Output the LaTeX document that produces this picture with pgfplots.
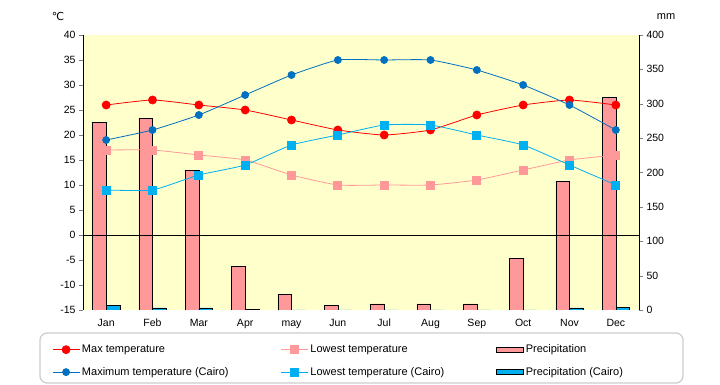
\documentclass[border=0pt]{standalone}
\usepackage{fontspec}
\setmainfont{Liberation Sans}
\newfontfamily\dejavu{DejaVu Sans}
\usepackage{pgfplots}
\pgfplotsset{compat=1.18}
\definecolor{bgy}{HTML}{FFFFCC}
\definecolor{pinkc}{HTML}{FF9999}
\definecolor{cyanc}{HTML}{00B0F0}
\definecolor{bluec}{HTML}{0070C0}
\begin{document}
\begin{tikzpicture}[x=1pt,y=1pt]
\path[use as bounding box] (0,0) rectangle (720,385);
\pgfplotsset{
  common/.style={
    at={(83pt,75pt)}, anchor=south west, scale only axis,
    width=556pt, height=275pt, xmin=-0.5, xmax=11.5,
    tick align=outside, major tick length=4pt,
    tick label style={font=\fontsize{10.5}{12}\selectfont},
    /pgf/number format/assume math mode=true,
  }
}
\begin{axis}[common,
  ymin=0, ymax=400, ytick={0,50,...,400},
  axis y line*=right, axis x line*=bottom,
  x axis line style={draw=none}, xtick style={draw=none},
  xtick={0,...,11},
  xticklabels={Jan,Feb,Mar,Apr,may,Jun,Jul,Aug,Sep,Oct,Nov,Dec},
  xticklabel style={text height=7.5pt, text depth=2pt, yshift=-1pt},
  axis background/.style={fill=bgy},
  ybar, bar width=13.7pt,
]
\addplot[fill=pinkc, draw=black, bar shift=-6.85pt] coordinates {
(0,273) (1,279) (2,203) (3,63) (4,23) (5,7) (6,9) (7,9) (8,9) (9,75) (10,187) (11,309)};
\addplot[fill=cyanc, draw=black, bar shift=6.85pt] coordinates {
(0,7) (1,3) (2,3) (3,1) (4,0) (5,0) (6,0) (7,0) (8,0) (9,0) (10,3) (11,4)};
\end{axis}
\begin{axis}[common,
  ymin=-15, ymax=40, ytick={-15,-10,...,40},
  axis y line*=left, axis x line=none,
  legend columns=3, legend cell align=left,
  legend style={draw=none, fill=none, inner sep=0pt, row sep=9pt,
    at={(axis description cs:-0.0558,-0.119)}, anchor=north west,
    font=\fontsize{11}{12}\selectfont,
    /tikz/every even column/.append style={column sep=50pt}},
  legend image code/.code={\draw[mark repeat=2,mark phase=2,#1] plot coordinates {(0pt,0pt) (13.5pt,0pt) (27pt,0pt)};},
]
\addplot[black, no marks, line width=0.6pt, forget plot] coordinates {(-0.5,0) (11.5,0)};
\addplot[red, line width=0.8pt, smooth, tension=0.3, mark=*, mark size=4pt] coordinates {
(0,26) (1,27) (2,26) (3,25) (4,23) (5,21) (6,20) (7,21) (8,24) (9,26) (10,27) (11,26)};
\addplot[pinkc, line width=0.8pt, smooth, tension=0.3, mark=square*, mark size=4pt] coordinates {
(0,17) (1,17) (2,16) (3,15) (4,12) (5,10) (6,10) (7,10) (8,11) (9,13) (10,15) (11,16)};
\addlegendimage{legend image code/.code={\draw[fill=pinkc,draw=black] (0pt,-2.5pt) rectangle (27pt,2.5pt);}}
\addplot[bluec, line width=0.8pt, smooth, tension=0.3, mark=*, mark size=3.5pt] coordinates {
(0,19) (1,21) (2,24) (3,28) (4,32) (5,35) (6,35) (7,35) (8,33) (9,30) (10,26) (11,21)};
\addplot[cyanc, line width=0.8pt, smooth, tension=0.3, mark=square*, mark size=4pt] coordinates {
(0,9) (1,9) (2,12) (3,14) (4,18) (5,20) (6,22) (7,22) (8,20) (9,18) (10,14) (11,10)};
\addlegendimage{legend image code/.code={\draw[fill=cyanc,draw=black] (0pt,-2.5pt) rectangle (27pt,2.5pt);}}
\legend{Max temperature, Lowest temperature, Precipitation, Maximum temperature (Cairo), Lowest temperature (Cairo), Precipitation (Cairo)}
\end{axis}
\draw[black!20, line width=1.2pt, rounded corners=7pt] (40,2) rectangle (683,52);
\node[font=\dejavu\fontsize{11}{12}\selectfont] at (58,368) {℃};
\node[font=\fontsize{11}{12}\selectfont] at (666,368) {mm};
\end{tikzpicture}
\end{document}
